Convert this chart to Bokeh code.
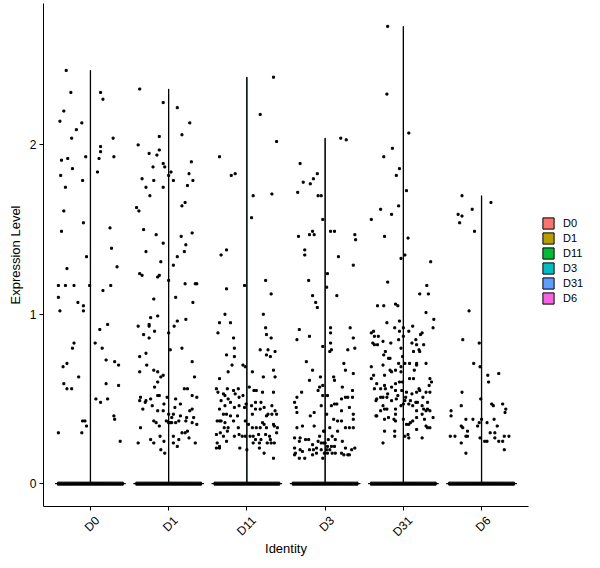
import math
from bokeh.plotting import figure
from bokeh.models import Range1d, FixedTicker, Legend, LegendItem, LinearAxis
from bokeh.embed import file_html
from bokeh.resources import INLINE

# groups on the x axis and their fill colours
idents = ["D0", "D1", "D11", "D3", "D31", "D6"]
colors = ["#F8766D", "#B79F00", "#00BA38", "#00BFC4", "#619CFF", "#F564E3"]
y_ticks = [0, 1, 2]

# non-zero cells per group: (jitter offset, expression level)
cells_d0 = [
    (-0.31, 2.44), (-0.25, 2.31), (0.13, 2.31), (0.16, 2.27), (-0.34, 2.20), (-0.39, 2.14),
    (-0.11, 2.13), (-0.18, 2.09), (-0.24, 2.04), (0.29, 2.04), (0.13, 1.99), (0.13, 1.96),
    (-0.37, 1.91), (-0.29, 1.92), (-0.06, 1.93), (0.11, 1.92), (0.30, 1.93), (-0.23, 1.86),
    (-0.38, 1.82), (0.09, 1.84), (-0.10, 1.79), (-0.32, 1.75), (-0.34, 1.61), (-0.09, 1.54),
    (0.25, 1.51), (-0.37, 1.49), (0.27, 1.39), (-0.05, 1.34), (-0.30, 1.27), (0.34, 1.28),
    (-0.41, 1.17), (-0.32, 1.17), (-0.21, 1.17), (-0.01, 1.17), (0.26, 1.17), (0.16, 1.14),
    (-0.41, 1.10), (-0.16, 1.07), (-0.09, 1.05), (-0.09, 1.02), (-0.39, 1.02), (0.12, 0.91),
    (0.22, 0.94), (-0.21, 0.83), (-0.23, 0.80), (0.06, 0.83), (0.15, 0.80), (0.20, 0.73),
    (0.31, 0.72), (0.36, 0.70), (-0.30, 0.71), (-0.35, 0.69), (-0.15, 0.63), (-0.34, 0.59),
    (-0.30, 0.56), (-0.24, 0.56), (0.20, 0.59), (0.36, 0.58), (0.07, 0.50), (0.13, 0.48),
    (0.22, 0.50), (0.30, 0.40), (0.31, 0.38), (-0.10, 0.37), (-0.07, 0.37), (-0.05, 0.34),
    (-0.41, 0.30), (-0.11, 0.30), (0.38, 0.25),
]
cells_d1 = [
    (-0.37, 2.33), (-0.07, 2.25), (0.11, 2.22), (0.27, 2.13), (0.17, 2.06), (-0.12, 2.05),
    (-0.39, 2.00), (-0.12, 1.97), (-0.25, 1.95), (-0.15, 1.94), (0.29, 1.90), (-0.07, 1.89),
    (-0.20, 1.87), (-0.05, 1.87), (0.03, 1.84), (0.26, 1.83), (0.00, 1.82), (0.06, 1.79),
    (0.31, 1.79), (-0.34, 1.80), (-0.19, 1.79), (-0.29, 1.75), (-0.07, 1.75), (0.24, 1.76),
    (-0.24, 1.70), (0.21, 1.66), (0.17, 1.64), (-0.41, 1.63), (-0.38, 1.61), (-0.32, 1.50),
    (-0.16, 1.47), (0.30, 1.48), (0.16, 1.46), (0.22, 1.41), (-0.07, 1.42), (0.20, 1.37),
    (-0.29, 1.37), (0.11, 1.34), (-0.10, 1.31), (0.06, 1.29), (-0.37, 1.24), (-0.34, 1.23),
    (-0.14, 1.22), (-0.12, 1.23), (0.00, 1.20), (0.21, 1.18), (0.34, 1.18), (0.36, 1.18),
    (0.09, 1.10), (-0.19, 1.09), (0.31, 1.07), (-0.14, 0.99), (-0.23, 0.98), (0.11, 0.96),
    (0.22, 0.97), (-0.39, 0.93), (-0.25, 0.94), (-0.25, 0.93), (0.07, 0.93), (-0.18, 0.90),
    (0.00, 0.89), (-0.32, 0.88), (-0.25, 0.86), (0.17, 0.80), (0.02, 0.79), (-0.29, 0.77),
    (-0.37, 0.75), (0.30, 0.72), (-0.28, 0.70), (-0.19, 0.67), (-0.14, 0.66), (-0.37, 0.66),
    (-0.07, 0.64), (-0.10, 0.63), (0.33, 0.63), (-0.14, 0.60), (-0.18, 0.57), (0.20, 0.56),
    (0.24, 0.56), (-0.36, 0.51), (-0.14, 0.52), (-0.12, 0.52), (-0.02, 0.51), (0.09, 0.50),
    (0.30, 0.52), (0.36, 0.51), (-0.23, 0.50), (-0.29, 0.49), (-0.37, 0.49), (-0.30, 0.48),
    (-0.06, 0.47), (0.15, 0.47), (-0.21, 0.46), (-0.14, 0.43), (-0.07, 0.43), (-0.33, 0.44),
    (0.08, 0.45), (0.27, 0.43), (0.30, 0.44), (0.00, 0.41), (0.06, 0.41), (0.15, 0.40),
    (0.04, 0.39), (0.23, 0.39), (0.32, 0.39), (-0.19, 0.37), (-0.16, 0.36), (-0.03, 0.37),
    (0.00, 0.36), (0.02, 0.36), (0.04, 0.36), (0.09, 0.36), (0.13, 0.37), (0.22, 0.37),
    (0.30, 0.36), (0.36, 0.35), (-0.12, 0.34), (-0.36, 0.33), (0.17, 0.30), (0.21, 0.30),
    (0.24, 0.31), (-0.11, 0.28), (0.06, 0.28), (-0.23, 0.26), (0.13, 0.26), (0.26, 0.27),
    (-0.06, 0.25), (-0.39, 0.24), (-0.19, 0.24), (0.06, 0.24), (0.11, 0.22), (0.34, 0.24),
    (-0.10, 0.20), (-0.05, 0.18),
]
cells_d11 = [
    (0.34, 2.40), (0.17, 2.18), (0.38, 2.02), (-0.35, 1.93), (-0.20, 1.82), (-0.15, 1.83),
    (0.08, 1.70), (0.32, 1.71), (0.06, 1.57), (-0.26, 1.38), (-0.33, 1.35), (-0.03, 1.17),
    (0.24, 1.20), (-0.26, 1.15), (0.31, 1.12), (-0.28, 1.00), (0.21, 1.00), (-0.35, 0.95),
    (-0.21, 0.95), (0.24, 0.92), (-0.37, 0.89), (-0.17, 0.86), (-0.16, 0.80), (-0.26, 0.76),
    (-0.16, 0.75), (-0.19, 0.70), (-0.05, 0.70), (-0.02, 0.69), (-0.24, 0.66), (-0.35, 0.62),
    (0.25, 0.88), (0.31, 0.86), (0.17, 0.79), (0.27, 0.79), (0.36, 0.78), (0.25, 0.76),
    (0.30, 0.75), (0.07, 0.66), (0.34, 0.67), (0.21, 0.63), (0.36, 0.63), (0.03, 0.57),
    (-0.39, 0.56), (-0.25, 0.56), (-0.11, 0.56), (-0.17, 0.55), (-0.37, 0.54), (-0.30, 0.53),
    (-0.28, 0.52), (-0.15, 0.53), (0.09, 0.55), (0.12, 0.55), (0.20, 0.54), (0.34, 0.54),
    (-0.05, 0.52), (-0.24, 0.50), (-0.10, 0.51), (-0.33, 0.49), (-0.21, 0.48), (-0.28, 0.46),
    (-0.10, 0.46), (-0.01, 0.47), (0.06, 0.46), (0.11, 0.48), (0.18, 0.48), (-0.16, 0.45),
    (-0.03, 0.45), (0.22, 0.45), (0.32, 0.46), (-0.35, 0.44), (0.11, 0.44), (0.17, 0.44),
    (0.36, 0.43), (-0.30, 0.41), (-0.26, 0.41), (-0.21, 0.40), (-0.12, 0.40), (0.07, 0.41),
    (0.25, 0.40), (0.27, 0.41), (0.32, 0.41), (0.38, 0.41), (-0.17, 0.37), (-0.38, 0.37),
    (-0.35, 0.37), (-0.33, 0.37), (-0.28, 0.36), (-0.02, 0.37), (0.02, 0.35), (0.20, 0.36),
    (0.22, 0.35), (0.34, 0.35), (0.35, 0.34), (-0.29, 0.33), (-0.24, 0.33), (-0.11, 0.33),
    (0.07, 0.33), (0.12, 0.33), (0.17, 0.33), (0.25, 0.33), (0.39, 0.33), (-0.34, 0.30),
    (-0.25, 0.31), (-0.16, 0.28), (-0.10, 0.29), (-0.06, 0.28), (-0.02, 0.28), (0.04, 0.28),
    (0.08, 0.28), (0.15, 0.29), (0.24, 0.29), (0.29, 0.28), (0.38, 0.30), (-0.39, 0.29),
    (-0.30, 0.28), (-0.26, 0.25), (0.11, 0.26), (0.18, 0.26), (0.30, 0.26), (0.08, 0.24),
    (0.16, 0.24), (0.26, 0.24), (0.31, 0.24), (0.35, 0.24), (-0.38, 0.24), (-0.35, 0.22),
    (-0.39, 0.21), (-0.35, 0.21), (-0.09, 0.21), (0.00, 0.20), (0.16, 0.21), (0.22, 0.18),
    (0.34, 0.15),
]
cells_d3 = [
    (0.20, 2.04), (0.27, 2.03), (-0.32, 1.89), (-0.10, 1.83), (-0.15, 1.80), (-0.28, 1.78),
    (-0.19, 1.77), (-0.35, 1.72), (-0.09, 1.70), (-0.05, 1.70), (-0.03, 1.56), (0.07, 1.49),
    (0.12, 1.49), (-0.16, 1.49), (-0.20, 1.47), (-0.14, 1.47), (-0.34, 1.46), (0.38, 1.47),
    (0.39, 1.44), (-0.26, 1.38), (-0.26, 1.35), (0.17, 1.34), (0.36, 1.29), (0.03, 1.24),
    (0.02, 1.16), (-0.21, 1.20), (0.15, 1.11), (-0.16, 1.11), (-0.12, 1.07), (-0.10, 1.04),
    (0.07, 0.92), (0.32, 0.92), (-0.33, 0.91), (-0.36, 0.85), (-0.20, 0.87), (0.07, 0.89),
    (0.36, 0.86), (0.07, 0.83), (-0.03, 0.81), (0.38, 0.80), (0.29, 0.79), (0.08, 0.79),
    (0.06, 0.78), (-0.24, 0.72), (0.24, 0.71), (-0.16, 0.67), (0.26, 0.67), (0.36, 0.65),
    (-0.06, 0.63), (0.11, 0.63), (0.12, 0.61), (-0.20, 0.61), (-0.07, 0.57), (-0.03, 0.58),
    (-0.09, 0.55), (0.22, 0.57), (0.35, 0.55), (-0.30, 0.54), (-0.03, 0.52), (0.03, 0.52),
    (0.35, 0.51), (-0.36, 0.51), (0.21, 0.50), (0.26, 0.51), (0.29, 0.51), (-0.39, 0.48),
    (-0.37, 0.45), (-0.05, 0.46), (0.08, 0.46), (0.12, 0.47), (0.15, 0.47), (0.31, 0.45),
    (0.21, 0.43), (-0.14, 0.42), (-0.36, 0.42), (0.02, 0.41), (0.36, 0.41), (-0.19, 0.40),
    (0.11, 0.38), (0.36, 0.38), (0.16, 0.37), (0.21, 0.37), (-0.14, 0.34), (-0.29, 0.34),
    (-0.36, 0.33), (0.06, 0.33), (0.26, 0.33), (0.31, 0.33), (0.36, 0.33), (-0.02, 0.31),
    (-0.01, 0.31), (0.16, 0.31), (-0.07, 0.28), (0.09, 0.28), (-0.39, 0.27), (-0.32, 0.27),
    (-0.25, 0.26), (-0.21, 0.26), (-0.09, 0.25), (-0.05, 0.24), (-0.02, 0.24), (0.00, 0.24),
    (0.04, 0.26), (0.13, 0.26), (0.22, 0.25), (-0.33, 0.25), (-0.16, 0.23), (0.03, 0.22),
    (0.08, 0.22), (0.12, 0.22), (-0.11, 0.21), (-0.39, 0.21), (-0.32, 0.20), (-0.15, 0.20),
    (-0.05, 0.20), (0.02, 0.20), (0.06, 0.20), (0.26, 0.21), (0.34, 0.20), (0.38, 0.21),
    (-0.38, 0.18), (-0.29, 0.19), (-0.20, 0.20), (-0.11, 0.18), (-0.01, 0.18), (0.03, 0.18),
    (0.09, 0.18), (0.13, 0.18), (0.21, 0.18), (0.24, 0.17), (0.29, 0.17), (0.31, 0.17),
    (-0.39, 0.17), (-0.16, 0.17), (-0.33, 0.15), (-0.26, 0.15), (-0.03, 0.15),
]
cells_d31 = [
    (-0.20, 2.70), (-0.21, 2.30), (0.07, 2.07), (-0.14, 1.98), (-0.25, 1.93), (-0.05, 1.86),
    (-0.09, 1.82), (0.04, 1.73), (-0.06, 1.64), (-0.29, 1.62), (-0.15, 1.59), (-0.41, 1.56),
    (-0.24, 1.46), (0.06, 1.45), (0.02, 1.35), (-0.03, 1.33), (0.35, 1.31), (-0.20, 1.19),
    (0.30, 1.17), (0.21, 1.12), (0.32, 1.12), (-0.33, 1.05), (-0.10, 1.06), (-0.07, 1.05),
    (-0.25, 1.05), (0.29, 1.01), (0.39, 0.97), (-0.21, 0.95), (-0.05, 0.96), (-0.11, 0.92),
    (0.00, 0.92), (0.12, 0.93), (0.38, 0.92), (0.07, 0.90), (-0.05, 0.90), (0.24, 0.89),
    (-0.38, 0.90), (-0.41, 0.89), (0.22, 0.88), (-0.37, 0.87), (-0.32, 0.87), (0.00, 0.87),
    (-0.06, 0.85), (0.16, 0.85), (-0.26, 0.84), (-0.16, 0.83), (-0.39, 0.83), (0.11, 0.83),
    (0.26, 0.82), (-0.37, 0.82), (-0.33, 0.82), (0.17, 0.82), (-0.03, 0.80), (0.20, 0.79),
    (-0.23, 0.78), (0.21, 0.78), (0.13, 0.78), (-0.25, 0.76), (-0.01, 0.75), (-0.19, 0.74),
    (-0.17, 0.74), (-0.06, 0.71), (0.02, 0.71), (0.08, 0.71), (0.17, 0.71), (0.17, 0.70),
    (0.29, 0.71), (-0.26, 0.70), (-0.41, 0.69), (-0.03, 0.69), (-0.10, 0.67), (-0.17, 0.67),
    (0.14, 0.67), (-0.15, 0.66), (-0.03, 0.66), (-0.38, 0.64), (-0.41, 0.62), (-0.24, 0.64),
    (0.08, 0.62), (0.13, 0.62), (0.34, 0.62), (0.36, 0.60), (-0.05, 0.60), (-0.01, 0.60),
    (-0.34, 0.59), (-0.24, 0.58), (-0.10, 0.59), (-0.15, 0.57), (0.33, 0.58), (-0.37, 0.56),
    (-0.29, 0.56), (-0.23, 0.56), (-0.10, 0.55), (-0.02, 0.55), (0.20, 0.56), (0.21, 0.55),
    (0.17, 0.54), (0.04, 0.54), (0.11, 0.53), (0.34, 0.54), (0.29, 0.54), (-0.20, 0.53),
    (-0.21, 0.51), (-0.29, 0.51), (-0.26, 0.51), (-0.07, 0.52), (0.03, 0.51), (0.25, 0.51),
    (-0.34, 0.50), (-0.35, 0.49), (-0.15, 0.49), (-0.09, 0.50), (0.02, 0.49), (0.09, 0.49),
    (0.16, 0.48), (0.18, 0.48), (0.31, 0.48), (-0.03, 0.46), (0.00, 0.47), (0.07, 0.47),
    (0.12, 0.46), (0.24, 0.46), (-0.26, 0.46), (0.26, 0.44), (-0.21, 0.44), (-0.24, 0.44),
    (-0.29, 0.43), (-0.10, 0.44), (0.17, 0.43), (0.29, 0.43), (0.31, 0.44), (0.34, 0.43),
    (0.24, 0.41), (-0.10, 0.41), (-0.34, 0.40), (-0.35, 0.40), (-0.24, 0.38), (-0.19, 0.39),
    (-0.12, 0.38), (-0.10, 0.37), (0.00, 0.38), (0.17, 0.39), (0.27, 0.38), (0.38, 0.39),
    (0.12, 0.37), (0.09, 0.36), (0.04, 0.35), (0.07, 0.35), (0.29, 0.34), (0.31, 0.33),
    (0.34, 0.33), (0.17, 0.32), (-0.24, 0.31), (-0.11, 0.31), (-0.11, 0.28), (0.02, 0.28),
    (0.07, 0.27), (0.24, 0.27), (0.06, 0.29), (-0.26, 0.24),
]
cells_d6 = [
    (-0.25, 1.70), (0.12, 1.66), (-0.12, 1.62), (-0.30, 1.59), (-0.25, 1.58), (-0.28, 1.54),
    (-0.09, 1.49), (-0.16, 1.02), (-0.24, 0.85), (-0.03, 0.83), (-0.10, 0.71), (-0.02, 0.69),
    (0.22, 0.65), (0.08, 0.64), (0.09, 0.60), (-0.25, 0.54), (-0.01, 0.50), (0.13, 0.47),
    (0.15, 0.46), (0.27, 0.47), (-0.26, 0.46), (0.31, 0.44), (0.30, 0.42), (-0.39, 0.43),
    (-0.39, 0.40), (-0.20, 0.38), (-0.11, 0.38), (0.00, 0.38), (0.16, 0.38), (-0.03, 0.36),
    (0.07, 0.36), (-0.26, 0.34), (-0.24, 0.33), (-0.05, 0.34), (0.20, 0.34), (-0.18, 0.31),
    (0.11, 0.30), (0.17, 0.30), (-0.40, 0.28), (-0.34, 0.28), (-0.20, 0.28), (-0.18, 0.28),
    (-0.02, 0.27), (0.17, 0.27), (0.29, 0.28), (0.35, 0.28), (0.04, 0.25), (0.07, 0.25),
    (0.22, 0.25), (0.27, 0.25), (-0.26, 0.24), (0.29, 0.20), (-0.20, 0.18),
]
cells = [cells_d0, cells_d1, cells_d11, cells_d3, cells_d31, cells_d6]

font = "Liberation Sans"
positions = list(range(1, len(idents) + 1))

p = figure(
    frame_width=485, frame_height=503,
    x_range=Range1d(0.4, 6.6), y_range=Range1d(-0.135, 2.835),
    output_backend="svg", toolbar_location=None,
    min_border_top=3, min_border_left=43, min_border_right=0,
)

# violins: all the density sits at zero, so only the outline shows
legend_items = []
for pos, name, col, pts in zip(positions, idents, colors, cells):
    top = max(v for _, v in pts)
    r = p.patch(
        [pos - 0.45, pos + 0.45, pos + 0.002, pos + 0.002, pos - 0.002, pos - 0.002],
        [0, 0, 0.004, top, top, 0.004],
        fill_color=col, line_color="black", line_width=1,
    )
    legend_items.append(LegendItem(label=name, renderers=[r]))

# the many zero cells pile up into a thick bar
p.rect(x=positions, y=[0] * len(positions), width=0.84, height=3,
       height_units="screen", color="black")

for pos, pts in zip(positions, cells):
    p.scatter([pos + o for o, _ in pts], [v for _, v in pts],
              marker="square", size=2, color="black")

p.xaxis.ticker = FixedTicker(ticks=positions)
p.xaxis.major_label_overrides = {pos: "" for pos in positions}
p.yaxis.ticker = FixedTicker(ticks=y_ticks)
p.yaxis.axis_label = "Expression Level"

# second axis under the first one only carries the rotated group names,
# nudged right so that they hang from the ticks the way ggplot sets them
label_pos = [pos + 0.09 for pos in positions]
names_axis = LinearAxis(
    ticker=FixedTicker(ticks=label_pos),
    major_label_overrides={lp: name for lp, name in zip(label_pos, idents)},
    major_label_orientation=math.pi / 4,
    axis_label="Identity",
)
p.add_layout(names_axis, "below")

p.axis.axis_line_color = "black"
p.axis.minor_tick_line_color = None
p.axis.major_label_text_font = font
p.axis.major_label_text_font_size = "12px"
p.axis.major_label_text_color = "black"
p.axis.axis_label_text_font = font
p.axis.axis_label_text_font_size = "13px"
p.axis.axis_label_text_font_style = "normal"
p.axis.axis_label_text_color = "black"
for ax in (p.xaxis[0], p.yaxis[0]):
    ax.major_tick_line_color = "black"
    ax.major_tick_out = 4
    ax.major_tick_in = 0
    ax.major_label_standoff = 3
p.yaxis.axis_label_standoff = 4

names_axis.axis_line_color = None
names_axis.major_tick_line_color = None
names_axis.major_tick_out = 0
names_axis.major_tick_in = 0
names_axis.major_label_standoff = 8
names_axis.axis_label_standoff = -6

p.grid.visible = False
p.outline_line_color = None

legend = Legend(
    items=legend_items, location=(13, 201),
    glyph_width=14, glyph_height=14, label_height=14, spacing=1,
    label_standoff=8, padding=0, margin=0,
    border_line_color=None, background_fill_alpha=0,
    label_text_font=font, label_text_font_size="11px", label_text_color="black",
)
p.add_layout(legend, "right")

open("out.html", "w").write(file_html(p, INLINE))
